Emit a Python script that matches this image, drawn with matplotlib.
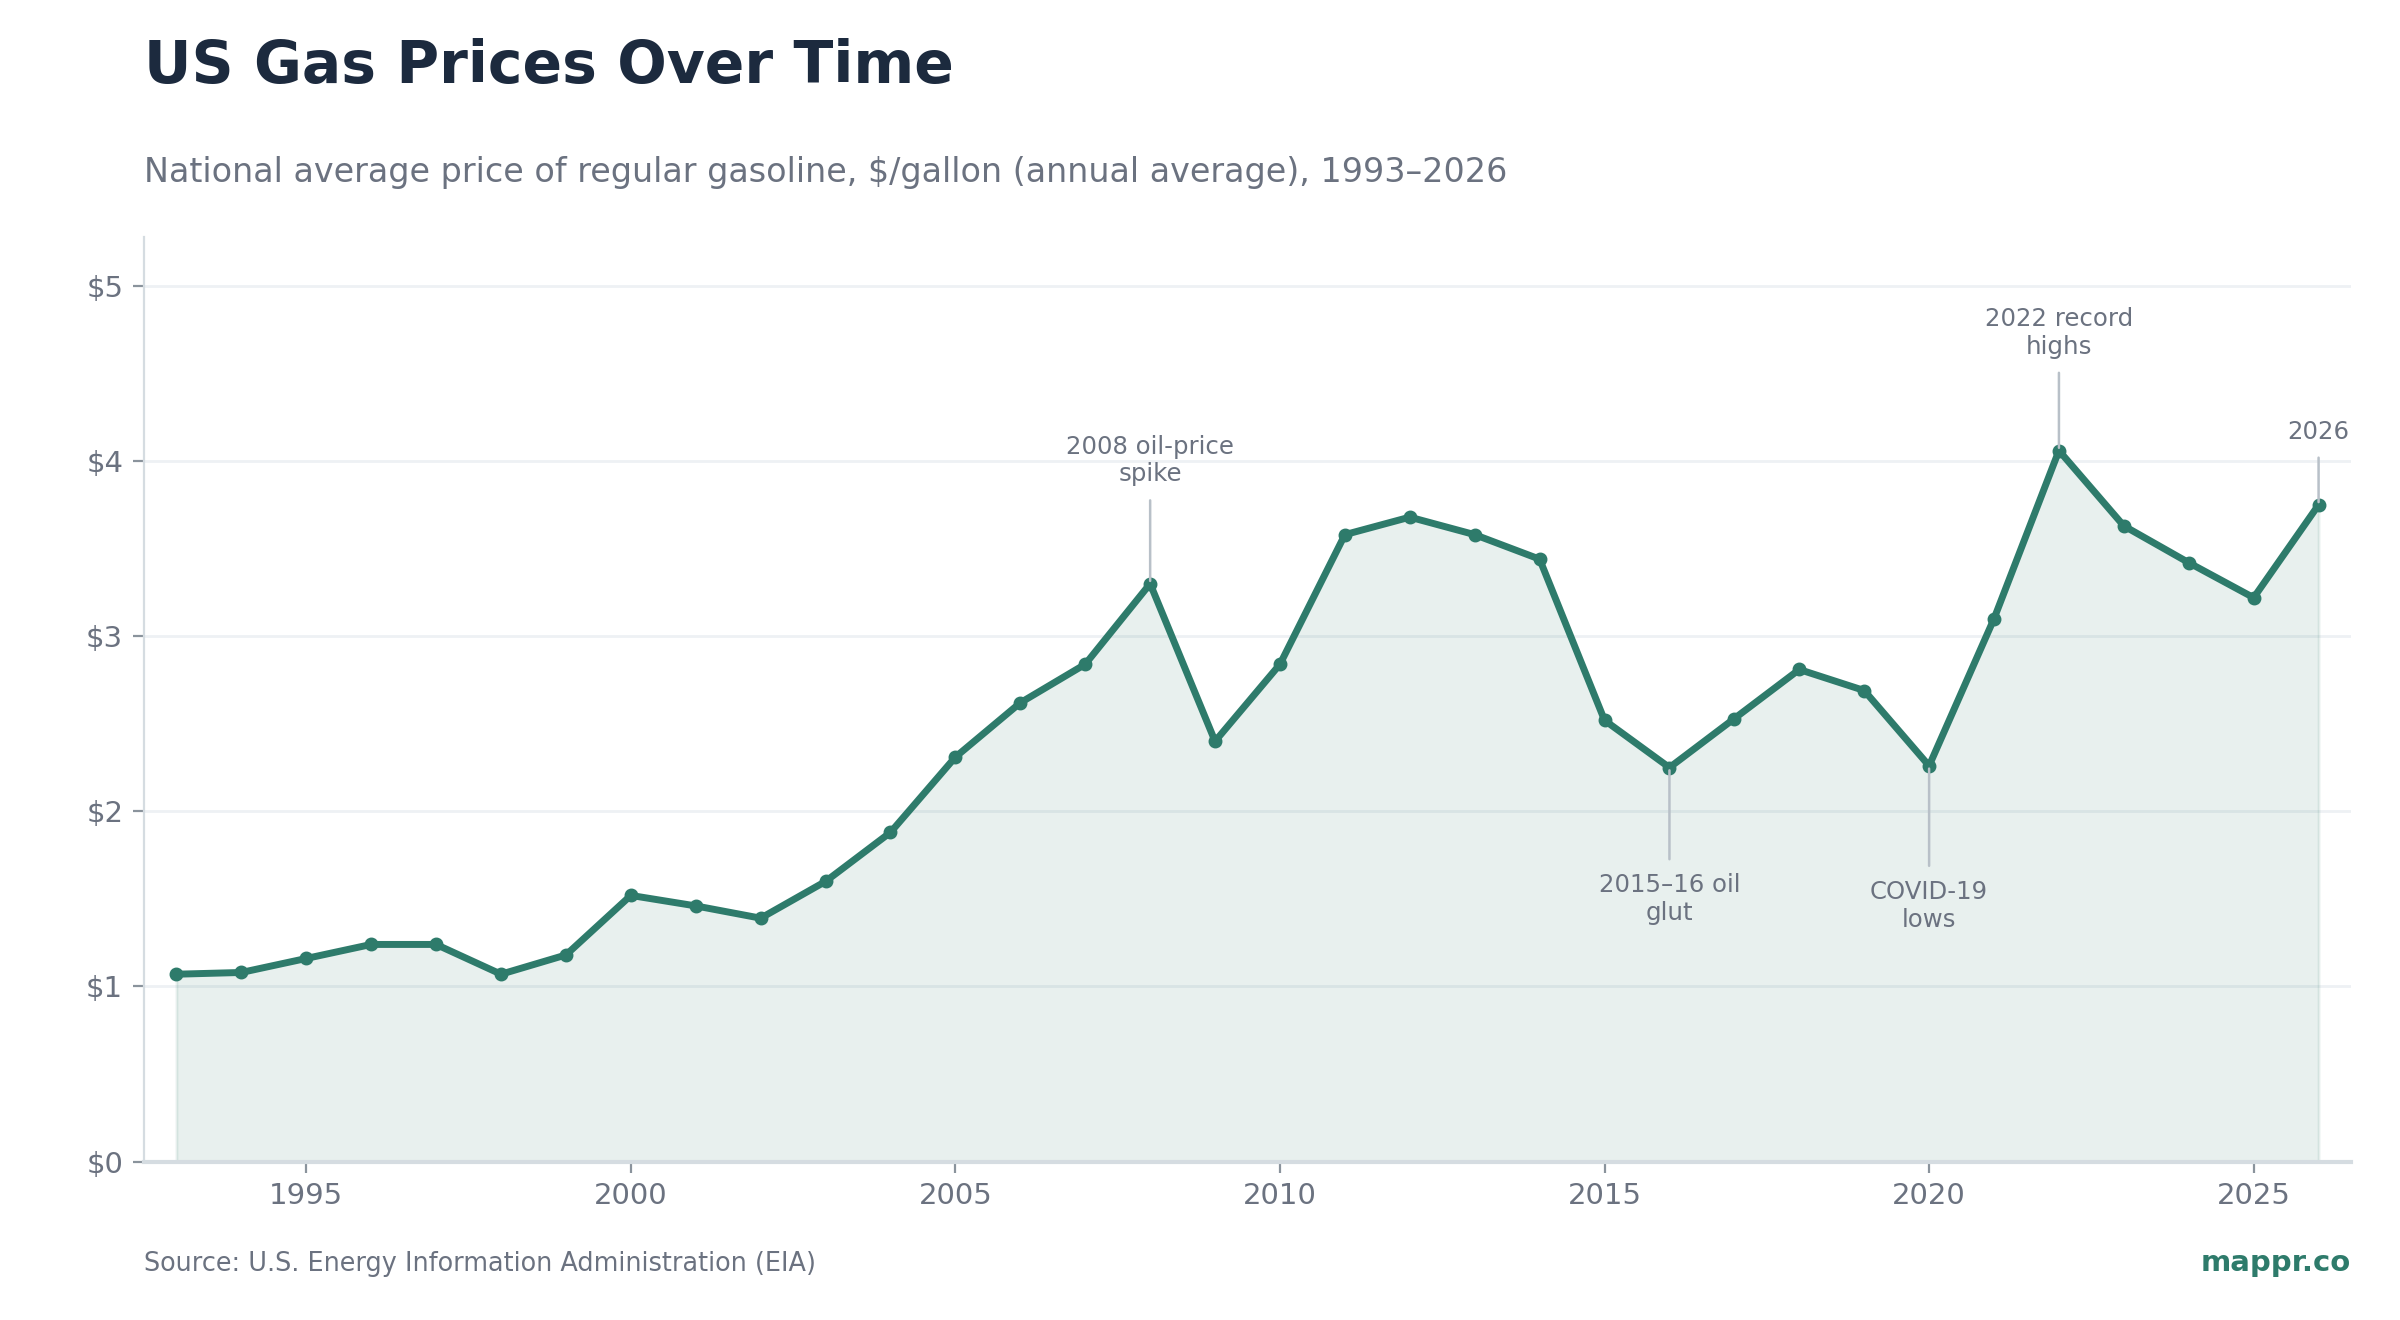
import matplotlib
matplotlib.use("Agg")
import matplotlib.pyplot as plt

years = list(range(1993, 2027))
prices = [1.07, 1.08, 1.16, 1.24, 1.24, 1.07, 1.18, 1.52, 1.46, 1.39,
          1.60, 1.88, 2.31, 2.62, 2.84, 3.30, 2.40, 2.84, 3.58, 3.68,
          3.58, 3.44, 2.52, 2.25, 2.53, 2.81, 2.69, 2.26, 3.10, 4.06,
          3.63, 3.42, 3.22, 3.75]

# annotations: (year, label, offset in points; negative = below)
notes = [
    (2008, "2008 oil-price\nspike", 35),
    (2016, "2015–16 oil\nglut", -38),
    (2020, "COVID-19\nlows", -41),
    (2022, "2022 record\nhighs", 33),
    (2026, "2026", 22),
]

yticks = [0, 1, 2, 3, 4, 5]
ytick_labels = ["$0", "$1", "$2", "$3", "$4", "$5"]
xticks = [1995, 2000, 2005, 2010, 2015, 2020, 2025]

green = "#2e7b6b"
gray_text = "#6b7280"
dark = "#1c2a3e"

fig = plt.figure(figsize=(12, 6.6), dpi=200)
ax = fig.add_axes([0.06, 0.12, 0.9196, 0.7005])

ax.fill_between(years, prices, 0, color=green, alpha=0.11, lw=1)
ax.plot(years, prices, color=green, lw=2.5, marker="o", markersize=4, zorder=3)

for yr, label, off in notes:
    val = prices[years.index(yr)]
    ax.annotate(label, xy=(yr, val), xytext=(0, off), textcoords="offset points",
                ha="center", va="bottom" if off > 0 else "top",
                fontsize=8.8, color=gray_text, linespacing=1.2,
                arrowprops=dict(arrowstyle="-", color="#b8c0c8", lw=0.9,
                                shrinkA=3, shrinkB=1))

ax.set_xlim(1992.5, 2026.5)
ax.set_ylim(0, 5.28)
ax.set_yticks(yticks)
ax.set_yticklabels(ytick_labels)
ax.set_xticks(xticks)
ax.tick_params(labelsize=10.5, length=4, width=0.8, colors="#8a939c", labelcolor=gray_text)
ax.grid(axis="y", color="#eef1f4", lw=1)
ax.set_axisbelow(True)
for s in ["top", "right"]:
    ax.spines[s].set_visible(False)
ax.spines["left"].set_color("#d5dce1")
ax.spines["bottom"].set_color("#d5dce1")
ax.spines["bottom"].set_linewidth(1.5)

fig.text(0.06, 0.937, "US Gas Prices Over Time", fontsize=21, fontweight="bold",
         color=dark, ha="left", va="baseline")
fig.text(0.06, 0.862, "National average price of regular gasoline, $/gallon (annual average), 1993–2026",
         fontsize=12, color=gray_text, ha="left", va="baseline")
fig.text(0.06, 0.037, "Source: U.S. Energy Information Administration (EIA)",
         fontsize=9.2, color=gray_text, ha="left", va="baseline")
fig.text(0.9796, 0.037, "mappr.co", fontsize=10.5, fontweight="bold",
         color=green, ha="right", va="baseline")

fig.savefig("out.png", dpi=200)
